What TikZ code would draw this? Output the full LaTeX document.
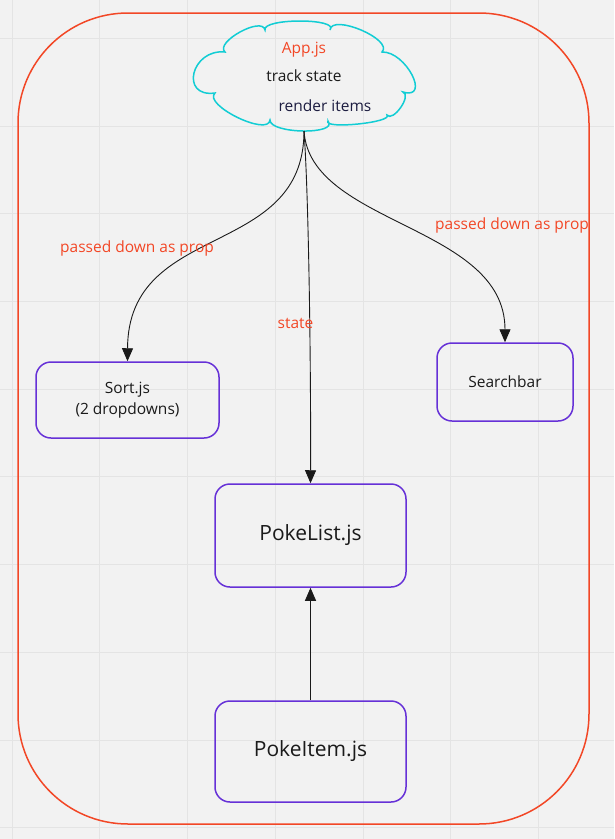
\documentclass[tikz,border=0pt]{standalone}
\usepackage{fontspec}
\setmainfont{Open Sans}
\usetikzlibrary{arrows.meta}
\definecolor{bgcol}{HTML}{F2F2F2}
\definecolor{gridcol}{HTML}{E4E4E4}
\definecolor{framered}{HTML}{F24726}
\definecolor{cloudcyan}{HTML}{12CDD4}
\definecolor{boxviolet}{HTML}{6631D7}
\definecolor{inkgray}{HTML}{1A1A1A}
\definecolor{inknavy}{HTML}{1C1C40}
\newcommand{\smalltxt}{\fontsize{15.5}{19}\selectfont}
\newcommand{\bigtxt}{\fontsize{21}{25}\selectfont}

\begin{document}
\begin{tikzpicture}[x=1pt,y=-1pt,
    comp/.style={draw=boxviolet, line width=1.5pt, rounded corners=15pt,
                 text=inkgray, align=center, inner sep=0pt},
    flow/.style={draw=inkgray, line width=0.9pt,
                 -{Triangle[width=11pt,length=13pt]}},
    redlbl/.style={text=framered, inner sep=0pt}]
  \useasboundingbox (0,0) rectangle (614,839);
  \fill[bgcol] (0,0) rectangle (614,839);
  \foreach \k in {0,...,6}
    \draw[gridcol, line width=1pt] (12.2+87.7*\k,0) -- (12.2+87.7*\k,839);
  \foreach \k in {0,...,9}
    \draw[gridcol, line width=1pt] (0,38.4+87.7*\k) -- (614,38.4+87.7*\k);
  \draw[framered, line width=1.5pt, rounded corners=110pt] (18,13) rectangle (589,824);

  % App.js cloud
  \draw[cloudcyan, line width=1.5pt] (215,93)
      .. controls (179.3,97.8) and (191.3,48.6) .. (225,52)
      .. controls (214.3,42.2) and (262.3,15.8) .. (265,30)
      .. controls (261.8,18) and (339.8,18) .. (330,30)
      .. controls (331.5,13.1) and (393.9,39.5) .. (382,52)
      .. controls (405.9,51.2) and (431.1,100.4) .. (403,92)
      .. controls (412.2,95) and (393,122.6) .. (387,115)
      .. controls (393.6,122.4) and (322.8,129.6) .. (328,121)
      .. controls (339.1,135.1) and (269.5,133.9) .. (270,120)
      .. controls (268.4,137.1) and (202.4,104.7) .. (215,93) -- cycle;
  \coordinate (appfoot) at (304,131);
  \node[redlbl] (appname) at (304,50) {\smalltxt App.js};
  \node[text=inkgray, inner sep=0pt] (track) at (304,76) {\smalltxt track state};
  \node[text=inknavy, inner sep=0pt] (render) at (325,106) {\smalltxt render items};

  \node[comp, minimum width=183pt, minimum height=76pt] (sort) at (127.5,400)
       {\smalltxt Sort.js\\[4pt]\smalltxt (2 dropdowns)};
  \node[comp, minimum width=136pt, minimum height=78pt] (search) at (505,382)
       {\smalltxt Searchbar};
  \node[comp, minimum width=191pt, minimum height=103pt] (pokelist) at (310.5,535.5)
       {\bigtxt PokeList.js};
  \node[comp, minimum width=191pt, minimum height=101pt] (pokeitem) at (310.5,751.5)
       {\bigtxt PokeItem.js};

  \draw[flow] (appfoot) .. controls (304,260) and (128,220) .. (sort.north);
  \draw[flow] (appfoot) .. controls (310,225) and (505,225) .. (search.north);
  \draw[flow] (appfoot) .. controls (309,200) and (311,380) .. (pokelist.north);
  \draw[flow] (pokeitem.north) -- (pokelist.south);

  \node[redlbl] (propleft) at (137,248) {\smalltxt passed down as prop};
  \node[redlbl] (propright) at (512,225) {\smalltxt passed down as prop};
  \node[redlbl] (statelbl) at (295.5,323) {\smalltxt state};
\end{tikzpicture}
\end{document}
